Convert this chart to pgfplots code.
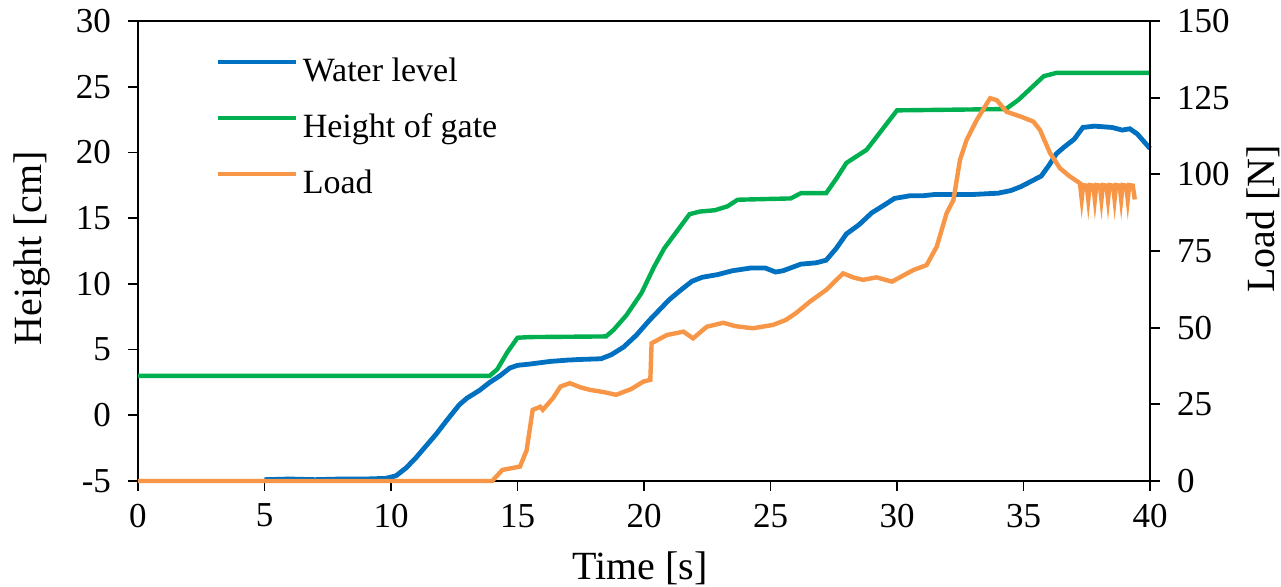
\documentclass[border=0pt]{standalone}
\usepackage{fontspec}
\setmainfont{Liberation Serif}
\usepackage{pgfplots}
\pgfplotsset{compat=1.18}
\usepackage{pgfplotstable}

\definecolor{wlblue}{RGB}{0,112,192}
\definecolor{gategreen}{RGB}{0,176,80}
\definecolor{loadorange}{RGB}{247,150,70}

% time [s]  water level [cm]
\pgfplotstableread{
t h
5.0 -4.9
6.0 -4.85
7.0 -4.9
8.0 -4.85
9.0 -4.85
9.8 -4.8
10.2 -4.6
10.6 -4.0
11.0 -3.2
11.4 -2.3
11.8 -1.4
12.2 -0.4
12.7 0.8
13.0 1.3
13.5 1.9
13.9 2.5
14.3 3.0
14.7 3.6
15.0 3.8
15.5 3.9
16.3 4.1
17.0 4.2
17.5 4.25
18.3 4.3
18.7 4.6
19.2 5.2
19.7 6.1
20.2 7.2
20.6 8.0
21.0 8.8
21.5 9.6
21.9 10.2
22.3 10.5
22.9 10.7
23.5 11.0
24.2 11.2
24.8 11.2
25.2 10.9
25.5 11.0
26.2 11.5
26.8 11.6
27.2 11.8
27.6 12.7
28.0 13.8
28.5 14.5
29.0 15.4
29.5 16.0
29.9 16.5
30.5 16.7
31.0 16.7
31.5 16.8
32.2 16.8
33.0 16.8
34.0 16.9
34.5 17.1
34.9 17.4
35.3 17.8
35.7 18.2
36.0 19.0
36.3 19.9
36.6 20.4
37.0 21.0
37.35 21.9
37.8 22.0
38.5 21.9
38.9 21.7
39.2 21.8
39.5 21.4
40.0 20.3
}\waterlevel

% time [s]  height of gate [cm]
\pgfplotstableread{
t h
0 3.0
13.9 3.0
14.2 3.5
14.6 4.8
15.0 5.9
15.5 5.95
18.5 6.0
18.8 6.5
19.3 7.6
19.9 9.3
20.4 11.3
20.8 12.7
21.3 14.0
21.8 15.3
22.2 15.5
22.8 15.6
23.3 15.9
23.7 16.4
25.8 16.5
26.2 16.9
27.2 16.9
27.6 18.0
28.0 19.2
28.8 20.2
29.4 21.7
30.0 23.2
34.3 23.3
34.8 24.0
35.3 24.9
35.8 25.8
36.3 26.05
40 26.05
}\gate

% time [s]  load [N]
\pgfplotstableread{
t N
0 0
14.0 0
14.4 3.6
15.1 4.7
15.36 10
15.6 23.2
15.9 24.2
16.0 23.2
16.4 27
16.7 30.8
17.07 31.9
17.5 30.5
17.87 29.7
18.4 29
18.9 28.1
19.5 30
19.97 32.4
20.25 33
20.3 44.9
20.9 47.6
21.56 48.7
21.94 46.5
22.48 50.3
23.14 51.6
23.6 50.5
24.3 49.8
25.1 50.9
25.6 52.5
26.0 54.7
26.56 58.5
27.2 62.3
27.87 67.7
28.3 66.3
28.66 65.6
29.19 66.4
29.8 65.0
30.2 66.8
30.65 68.8
31.17 70.4
31.57 76.4
31.96 87.3
32.23 91.6
32.49 104.7
32.75 111.2
33.15 117.7
33.68 124.8
33.94 124.2
34.33 120.4
34.9 118.8
35.39 117.2
35.65 114.5
36.05 106.9
36.44 102
36.8 99.5
37.23 97.1
37.3 92
37.36 96.5
37.5 96.3
37.56 91.8
37.62 96.5
37.76 96.3
37.82 91.8
37.88 96.5
38.02 96.3
38.08 91.8
38.14 96.5
38.28 96.3
38.34 91.8
38.4 96.5
38.54 96.3
38.6 91.8
38.66 96.5
38.8 96.3
38.86 91.8
38.92 96.5
39.06 96.3
39.12 91.8
39.18 96.5
39.32 96.3
39.4 91.8
}\load

\pgfplotsset{
  chart/.style={
    at={(0,0)}, anchor=south west,
    scale only axis, width=506pt, height=230pt,
    xmin=0, xmax=40, clip=false,
    tick align=outside, major tick length=5pt,
    axis line style={line width=0.9pt},
    every tick/.style={black, line width=0.9pt},
    /pgf/number format/assume math mode=true,
    tick label style={font=\fontsize{17.5}{20}\selectfont},
    label style={font=\fontsize{20}{24}\selectfont},
  },
}

\begin{document}
\begin{tikzpicture}
\path[use as bounding box] (-69pt,-53pt) rectangle (571.5pt,240.5pt);
\begin{axis}[
  chart,
  ymin=-5, ymax=30,
  xtick={0,5,...,40}, ytick={-5,0,...,30},
  xtick pos=bottom, ytick pos=left,
  yticklabel style={xshift=-5pt},
  xticklabel style={yshift=-3pt},
  xlabel={Time [s]}, ylabel={Height [cm]},
  xlabel style={at={(axis description cs:0.496,-0.189)}, anchor=center},
  ylabel style={at={(axis description cs:-0.1047,0.5065)}, anchor=center, rotate=0},
  legend cell align=left,
  legend style={at={(axis description cs:0.0761,0.765)}, anchor=west,
    draw=none, fill=none, inner sep=0pt, row sep=12pt, column sep=2.5pt,
    font=\fontsize{17}{20}\selectfont,
    nodes={inner sep=0pt, text height=12pt, text depth=4pt}},
  legend image code/.code={\draw[#1, line width=2.2pt] (0pt,5.5pt) -- (39pt,5.5pt);},
]
\addplot[wlblue, line width=2.4pt] table[x=t, y=h] {\waterlevel};
\addlegendentry{Water level}
\addplot[gategreen, line width=2.2pt] table[x=t, y=h] {\gate};
\addlegendentry{Height of gate}
\addlegendimage{loadorange, line width=2.2pt}
\addlegendentry{Load}
\end{axis}
\begin{axis}[
  chart,
  ymin=0, ymax=150, ytick={0,25,...,150},
  axis x line=none, axis y line*=right,
  yticklabel style={xshift=5pt},
  ylabel={Load [N]},
  ylabel style={at={(axis description cs:1.1117,0.5696)}, anchor=center, rotate=0},
]
\addplot[loadorange, line width=2.2pt] table[x=t, y=N] {\load};
\end{axis}
\end{tikzpicture}
\end{document}
